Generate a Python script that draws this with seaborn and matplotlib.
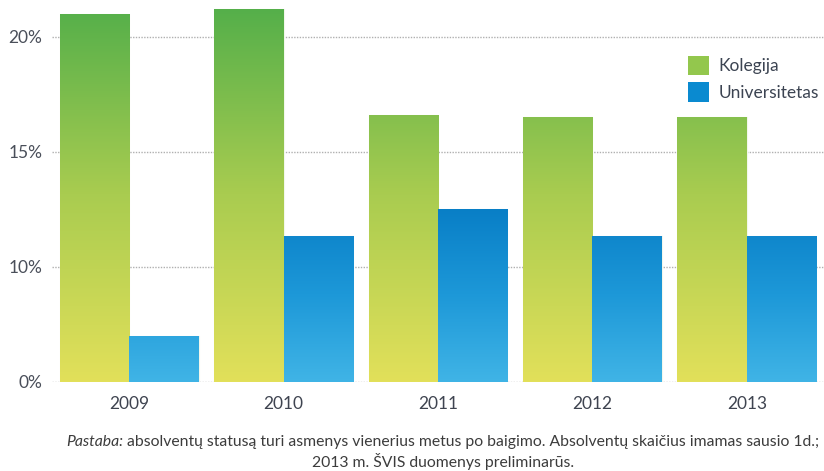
"""
Absolventu dalis: kolegijos ir universitetai, 2009-2013.
Bars are drawn by seaborn, then overlaid with vertical gradients clipped to each bar.
"""

import numpy as np
import pandas as pd
import matplotlib
matplotlib.use("Agg")
import matplotlib.pyplot as plt
from matplotlib.colors import LinearSegmentedColormap
from matplotlib.patches import Patch
import seaborn as sn

# data (the axis in the original starts at 5 %, but the baseline is labelled "0%")
years = ["2009", "2010", "2011", "2012", "2013"]
kolegija = [21.0, 21.2, 16.6, 16.5, 16.5]
universitetas = [7.0, 11.35, 12.5, 11.35, 11.35]
series_names = ["Kolegija", "Universitetas"]
tick_values = [5, 10, 15, 20]
tick_labels = ["0%", "10%", "15%", "20%"]

df = pd.DataFrame({
    "year": years * 2,
    "value": kolegija + universitetas,
    "series": [series_names[0]] * len(years) + [series_names[1]] * len(years),
})

sn.set_style("white")
plt.rcParams["font.family"] = ["Lato", "DejaVu Sans"]

W, H = 824, 471
fig = plt.figure(figsize=(W / 100, H / 100), dpi=100)
ax = fig.add_axes([52 / W, 1 - 382 / H, 1 - 52 / W, 382 / H])

sn.barplot(data=df, x="year", y="value", hue="series", order=years,
           hue_order=series_names, palette=["#9ccb4e", "#1a8fd4"],
           width=0.9, legend=False, ax=ax, edgecolor="#f2f7ec", linewidth=0.8,
           zorder=2)

y0, y1 = 5, 21.6

# gradient colours, fixed in data coordinates (bottom -> top)
cmaps = {
    series_names[0]: LinearSegmentedColormap.from_list("kol", ["#e2e05a", "#a9cc50", "#54af4a"]),
    series_names[1]: LinearSegmentedColormap.from_list("uni", ["#40b4e6", "#1d98d8", "#087ec6"]),
}
grad_top = {series_names[0]: 21.3, series_names[1]: 12.6}
bars = [p for p in ax.patches if p.get_height() > 0]
for i, bar in enumerate(bars):
    name = series_names[0] if i < len(years) else series_names[1]
    x0 = bar.get_x()
    grad = np.linspace(0, 1, 256).reshape(-1, 1)
    img = ax.imshow(grad, cmap=cmaps[name], origin="lower", aspect="auto",
                    extent=(x0, x0 + bar.get_width(), y0, grad_top[name]),
                    zorder=2.5)
    img.set_clip_path(bar)
    # keep the top colour above grad_top for the tallest bars
    if bar.get_height() > grad_top[name]:
        top = ax.imshow(np.array([[1.0]]), cmap=cmaps[name], vmin=0, vmax=1,
                        aspect="auto", extent=(x0, x0 + bar.get_width(), grad_top[name], y1),
                        zorder=2.5)
        top.set_clip_path(bar)
ax.set_xlim(-0.5, 4.5)
ax.set_ylim(y0, y1)

# dotted grid lines
for v in tick_values:
    ax.axhline(v, color="#b0b0b0", linestyle=(0, (1, 1)), linewidth=1.0, zorder=1)

ax.set_yticks(tick_values)
ax.set_yticklabels(tick_labels)
ax.tick_params(axis="y", length=0, pad=7, labelsize=12.5, labelcolor="#4a4f5a")
ax.tick_params(axis="x", length=0, pad=10, labelsize=12.5, labelcolor="#3f4450")
ax.set_xlabel("")
ax.set_ylabel("")
sn.despine(ax=ax, left=True, bottom=True)

handles = [Patch(facecolor="#93c74d", edgecolor="none"),
           Patch(facecolor="#0a8ad0", edgecolor="none")]
ax.legend(handles, series_names, loc="upper left",
          bbox_to_anchor=(672 / W, 1 - 40 / H), bbox_transform=fig.transFigure,
          frameon=False, fontsize=12.5, handlelength=1.25, handleheight=1.35,
          handletextpad=0.55, labelspacing=0.4, labelcolor="#3c4452")

# footnote: "Pastaba:" in italics, rest upright
note_rest = (" absolventų statusą turi asmenys vienerius metus po baigimo. "
             "Absolventų skaičius imamas sausio 1d.;")
note2 = "2013 m. ŠVIS duomenys preliminarūs."
renderer = fig.canvas.get_renderer()
t1 = fig.text(0, 1 - 442 / H, "Pastaba:", style="italic", fontsize=11.3,
              color="#3c3c3c", va="center")
t2 = fig.text(0, 1 - 442 / H, note_rest, fontsize=11.3, color="#3c3c3c", va="center")
w1 = t1.get_window_extent(renderer).width
w2 = t2.get_window_extent(renderer).width
start = (443 - (w1 + w2) / 2) / W
t1.set_x(start)
t2.set_x(start + w1 / W)
fig.text(443 / W, 1 - 462 / H, note2, fontsize=11.3, color="#3c3c3c",
         ha="center", va="center")

fig.savefig("out.png", dpi=100)
plt.close(fig)
